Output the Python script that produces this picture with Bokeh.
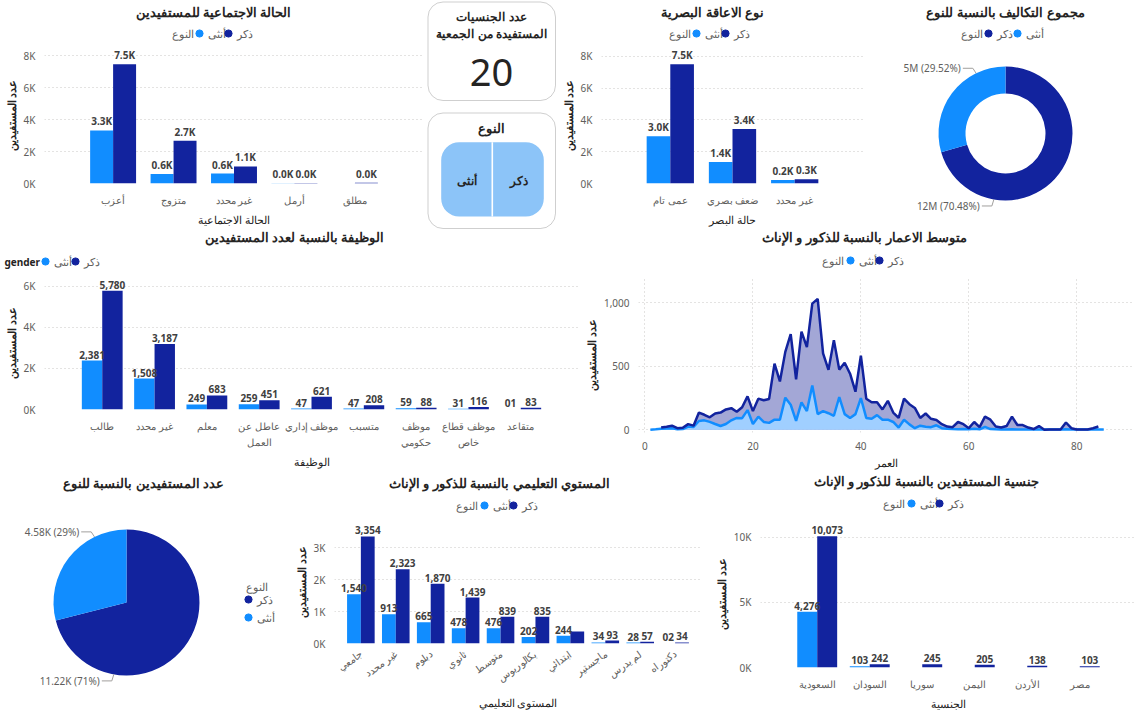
import math
from bokeh.plotting import figure
from bokeh.models import (FactorRange, Range1d, ColumnDataSource, Legend, LegendItem, Plot,
                          FixedTicker, NumeralTickFormatter, BoxAnnotation, Label)
from bokeh.transform import dodge
from bokeh.layouts import row, column
from bokeh.core.properties import value
from bokeh.embed import file_html
from bokeh.resources import INLINE

# ---------------- data ----------------
marital_cats = ["أعزب", "متزوج", "غير محدد", "أرمل", "مطلق"]
marital_f = [3320, 590, 620, 20, None]
marital_m = [7470, 2670, 1070, 30, 40]

vision_cats = ["عمى تام", "ضعف بصري", "غير محدد"]
vision_f = [2970, 1360, 220]
vision_m = [7500, 3430, 270]

job_cats = ["طالب", "غير محدد", "معلم", "عاطل عن\nالعمل", "موظف إداري", "متسبب",
            "موظف\nحكومي", "موظف قطاع\nخاص", "متقاعد"]
job_f = [2381, 1508, 249, 259, 47, 47, 59, 31, 1]
job_m = [5780, 3187, 683, 451, 621, 208, 88, 116, 83]

edu_cats = ["جامعي", "غير محدد", "دبلوم", "ثانوي", "متوسط", "بكالوريوس", "ابتدائي",
            "ماجستير", "لم يدرس", "دكتوراه"]
edu_f = [1540, 913, 665, 478, 476, 202, 244, 34, 28, 2]
edu_m = [3354, 2323, 1870, 1439, 839, 835, 374, 93, 57, 34]
edu_m_unlabeled = ["ابتدائي"]

nat_cats = ["السعودية", "السودان", "سوريا", "اليمن", "الأردن", "مصر"]
nat_f = [4276, 103, None, None, None, None]
nat_m = [10073, 242, 245, 205, 138, 103]

pie_genders = ["ذكر", "أنثى"]
cost_values = [12000000, 5026000]
count_values = [11220, 4580]

nationality_count = 20

age_f_x = list(range(1, 86))
age_f = [0, 3, 8, 10, 12, 3, 5, 25, 22, 69, 74, 62, 45, 29, 45, 74, 93, 91, 155, 45,
         103, 61, 54, 79, 79, 253, 197, 69, 216, 147, 349, 123, 147, 130, 110, 258, 123, 93, 123, 250,
         93, 86, 115, 79, 79, 61, 17, 79, 42, 12, 32, 24, 20, 35, 12, 8, 5, 3, 5, 3,
         8, 3, 22, 5, 3, 2, 2, 3, 2, 2, 1, 1, 2, 1, 1, 1, 1, 3, 1, 1,
         1, 1, 1, 1, 1]
age_m_x = list(range(3, 85))
age_m = [17, 24, 32, 12, 15, 44, 32, 135, 118, 98, 128, 135, 160, 170, 142, 177, 263, 147,
         245, 233, 243, 521, 381, 614, 754, 398, 774, 651, 995, 1032, 602, 472, 707, 474, 528, 442,
         300, 584, 245, 216, 216, 160, 228, 135, 93, 245, 201, 172, 93, 128, 86, 76, 44, 25,
         20, 61, 44, 12, 61, 20, 103, 79, 25, 17, 29, 103, 37, 37, 17, 5, 29, 0,
         2, 2, 2, 57, 12, 2, 2, 2, 12, 25]

# ---------------- style ----------------
FEM = "#118DFF"
MAL = "#12239E"
FEM_AREA = "#A0CFFF"
MAL_AREA = "#A3A7D6"
FONT = "Noto Sans"
GRID = "#C8C6C4"
TICK = "#605E5C"
DARK = "#252423"
LABEL = "#404040"
GL = 18  # legend glyph box (dot = 0.4 * GL)
NAN = float("nan")

HAS_BR = "border_radius" in BoxAnnotation.properties()
FIGKW = dict(output_backend="svg", toolbar_location=None, outline_line_color=None,
             background_fill_color="white", border_fill_color="white")
if "frame_align" in Plot.properties():
    FIGKW["frame_align"] = False


def k_fmt(v):
    return f"{v / 1000:.1f}K"


def n_fmt(v):
    return format(v, "02,d")


def k_tick(t):
    return f"{int(t // 1000)}K"


def converter(x0, y0, h, left, bottom):
    """page pixel -> offset from the frame's bottom-left corner"""
    def conv(px, py):
        return px - x0 - left, (y0 + h - bottom) - py
    return conv


def canvas(x0, y0, w, h):
    p = figure(width=w, height=h, x_range=Range1d(0, w), y_range=Range1d(0, h),
               x_axis_type=None, y_axis_type=None, min_border=0, **FIGKW)
    p.grid.visible = False
    return p, converter(x0, y0, h, 0, 0)


def add_title(p, conv, text, cx, cy):
    sx, sy = conv(cx, cy)
    p.add_layout(Label(x=sx, y=sy, text=text, text_align="center", text_baseline="middle",
                       text_font=FONT, text_font_size="13px", text_font_style="bold",
                       text_color=DARK))


def add_legend(p, conv, title, title_edge, title_y, entries, bold=False, align="right",
               title_size="11px"):
    sx, sy = conv(title_edge, title_y)
    p.add_layout(Label(x=sx, y=sy, text=title, text_align=align, text_baseline="middle",
                       text_font=FONT, text_font_size=title_size,
                       text_font_style="bold" if bold else "normal",
                       text_color=DARK if bold else TICK))
    for lab, col, label_left, y in entries:
        r = p.scatter(x=[NAN], y=[NAN], marker="circle", size=8, fill_color=col,
                      line_color=col)
        lx, ly = conv(label_left - GL, y)
        lg = Legend(items=[LegendItem(label=lab, renderers=[r])], location=(lx, ly - GL / 2),
                    label_text_font=FONT, label_text_font_size="11px", label_text_color=TICK,
                    glyph_width=GL, glyph_height=GL, label_height=GL, label_width=4,
                    label_standoff=0, spacing=0, padding=0, margin=0,
                    border_line_color=None, background_fill_alpha=0)
        p.add_layout(lg, "center")


def style_axes(p, xlabel, ylabel):
    p.axis.axis_line_color = None
    p.axis.major_tick_line_color = None
    p.axis.minor_tick_line_color = None
    p.axis.major_label_text_font = FONT
    p.axis.major_label_text_font_size = "10px"
    p.axis.major_label_text_color = TICK
    p.axis.axis_label_text_font = FONT
    p.axis.axis_label_text_color = DARK
    p.axis.axis_label_text_font_size = "11px"
    p.axis.major_label_standoff = 3
    p.axis.axis_label_standoff = 2
    p.xaxis.axis_label = xlabel
    p.yaxis.axis_label = ylabel
    p.yaxis.axis_label_text_font_style = "bold"
    p.xaxis.axis_label_text_font_style = "normal"


def bar_chart(pos, cats, f, m, ymax, ticks, lab_fmt, xlabel, pad, bw, orient=None,
              unlabeled=()):
    x0, y0, w, h, left, right, top, bottom = pos
    head, hconv = canvas(x0, y0, w, top)
    src = ColumnDataSource(dict(
        cat=cats,
        f=[NAN if v is None else v for v in f],
        m=[NAN if v is None else v for v in m],
        fl=["" if v is None else lab_fmt(v) for v in f],
        ml=["" if (v is None or c in unlabeled) else lab_fmt(v) for c, v in zip(cats, m)],
    ))
    p = figure(width=w, height=h - top,
               x_range=FactorRange(factors=cats, range_padding=pad, range_padding_units="absolute"),
               y_range=Range1d(0, ymax), min_border_left=left, min_border_right=right,
               min_border_top=0, min_border_bottom=bottom, **FIGKW)
    xf = dodge("cat", -bw / 2, range=p.x_range)
    xm = dodge("cat", bw / 2, range=p.x_range)
    p.vbar(x=xf, top="f", bottom=0, width=bw, source=src, fill_color=FEM, line_color=None)
    p.vbar(x=xm, top="m", bottom=0, width=bw, source=src, fill_color=MAL, line_color=None)
    for xx, col in ((xf, "f"), (xm, "m")):
        p.text(x=xx, y=col, text=col + "l", source=src, text_align="center",
               text_baseline="bottom", y_offset=-2, text_font=value(FONT),
               text_font_size="10px", text_font_style="bold", text_color=LABEL)
    p.xgrid.visible = False
    p.ygrid.grid_line_color = GRID
    p.ygrid.grid_line_dash = "1 3"
    p.yaxis.ticker = FixedTicker(ticks=ticks)
    p.yaxis.major_label_overrides = {t: k_tick(t) for t in ticks}
    style_axes(p, xlabel, "عدد المستفيدين")
    if orient is not None:
        p.xaxis.major_label_orientation = orient
    return column(head, p), head, hconv


# ---------------- row 1 ----------------
la, ha, ca = bar_chart((0, 0, 425, 229, 37, 2, 47, 33), marital_cats, marital_f, marital_m,
                       8514, [0, 2000, 4000, 6000, 8000], k_fmt, "الحالة الاجتماعية",
                       0.635, 0.38)
add_title(ha, ca, "الحالة الاجتماعية للمستفيدين", 213, 11)
add_legend(ha, ca, "النوع", 193, 33, [("أنثى", FEM, 208, 33), ("ذكر", MAL, 237, 33)])

lb, hb, cb = bar_chart((557, 0, 323, 229, 35, 17, 47, 33), vision_cats, vision_f, vision_m,
                       8557, [0, 2000, 4000, 6000, 8000], k_fmt, "حالة البصر", 0.606, 0.38)
add_title(hb, cb, "نوع الاعاقة البصرية", 712, 11)
add_legend(hb, cb, "النوع", 690, 33, [("أنثى", FEM, 705, 33), ("ذكر", MAL, 734, 33)])

# cards
pc, _ = canvas(425, 0, 132, 229)
br = {"border_radius": 15} if HAS_BR else {}
pc.add_layout(BoxAnnotation(left=2.5, right=130, bottom=129, top=227.5, fill_color="white",
                            fill_alpha=1, line_color="#606060", line_width=1, **br))
pc.add_layout(BoxAnnotation(left=2.5, right=130, bottom=1, top=116.5, fill_color="white",
                            fill_alpha=1, line_color="#606060", line_width=1, **br))
br2 = {"border_radius": 18} if HAS_BR else {}
pc.add_layout(BoxAnnotation(left=15.7, right=118.3, bottom=13, top=87.3, fill_color="#8CC4F8",
                            fill_alpha=1, line_color=None, **br2))
pc.add_layout(BoxAnnotation(left=66, right=67.6, bottom=13, top=87.3, fill_color="white",
                            fill_alpha=1, line_color=None))
for txt, x, y, size in (("عدد الجنسيات", 66, 213, "12px"), ("المستفيدة من الجمعية", 66, 196, "12px"),
                        ("النوع", 66, 102, "13px"), ("أنثى", 41, 49, "12px"), ("ذكر", 93, 49, "12px")):
    pc.add_layout(Label(x=x, y=y, text=txt, text_align="center", text_baseline="middle",
                        text_font=FONT, text_font_size=size, text_font_style="bold",
                        text_color=DARK))
pc.add_layout(Label(x=66, y=157, text=str(nationality_count), text_align="center",
                    text_baseline="middle", text_font=FONT, text_font_size="38px",
                    text_color=DARK))


def pie_figure(x0, y0, w, h, vals, cx, cy, r_out, r_in, label_fn):
    p, conv = canvas(x0, y0, w, h)
    tot = sum(vals)
    starts, ends, cum = [], [], 0
    for v in vals:
        a_from = math.pi / 2 - 2 * math.pi * cum / tot
        cum += v
        a_to = math.pi / 2 - 2 * math.pi * cum / tot
        starts.append(a_to)
        ends.append(a_from)
    src = ColumnDataSource(dict(s=starts, e=ends, c=[MAL, FEM], g=pie_genders))
    if r_in > 0:
        p.annular_wedge(x=cx, y=cy, inner_radius=r_in, outer_radius=r_out, start_angle="s",
                        end_angle="e", fill_color="c", line_color=None, source=src)
    else:
        p.wedge(x=cx, y=cy, radius=r_out, start_angle="s", end_angle="e", fill_color="c",
                line_color=None, source=src)
    anchors = [math.radians(260), math.radians(116)]
    elbows = [(-2, -6.5), (-3.3, 5)]
    for v, a, (ex, ey) in zip(vals, anchors, elbows):
        ax = cx + r_out * math.cos(a)
        ay = cy + r_out * math.sin(a)
        bx, by = ax + ex, ay + ey
        p.line([ax, bx, bx - 10], [ay, by, by], line_color="#A19F9D", line_width=1)
        p.add_layout(Label(x=bx - 12, y=by, text=label_fn(v, tot), text_align="right",
                           text_baseline="middle", text_font=FONT, text_font_size="10px",
                           text_color=TICK))
    return p, conv


pcost, cc = pie_figure(880, 0, 261, 229, cost_values, 125, 96, 67, 40,
                       lambda v, t: f"{round(v / 1e6)}M ({100 * v / t:.2f}%)")
add_title(pcost, cc, "مجموع التكاليف بالنسبة للنوع", 1005, 11)
add_legend(pcost, cc, "النوع", 982, 33, [("ذكر", MAL, 997, 33), ("أنثى", FEM, 1026, 33)])

# ---------------- row 2 ----------------
ld, hd, cd = bar_chart((0, 229, 580, 243, 39, 2, 47, 47), job_cats, job_f, job_m, 6478,
                       [0, 2000, 4000, 6000], n_fmt, "الوظيفة", 0.6036, 0.39)
add_title(hd, cd, "الوظيفة بالنسبة لعدد المستفيدين", 294, 236)
add_legend(hd, cd, "gender", 4, 261, [("أنثى", FEM, 54, 261), ("ذكر", MAL, 84, 261)],
           bold=True, align="left", title_size="10px")

he, ce = canvas(580, 229, 561, 48)
pe = figure(width=561, height=195, x_range=Range1d(-1.2, 90.7), y_range=Range1d(-22, 1201),
            min_border_left=57, min_border_right=7, min_border_top=0, min_border_bottom=29,
            **FIGKW)
pe.varea(x=age_m_x, y1=0, y2=age_m, fill_color=MAL_AREA)
pe.varea(x=age_f_x, y1=0, y2=age_f, fill_color=FEM_AREA)
pe.line(age_f_x, age_f, line_color=FEM, line_width=2.5)
pe.line(age_m_x, age_m, line_color=MAL, line_width=2.5)
pe.xaxis.ticker = FixedTicker(ticks=[0, 20, 40, 60, 80])
pe.yaxis.ticker = FixedTicker(ticks=[0, 500, 1000])
pe.yaxis.formatter = NumeralTickFormatter(format="0,0")
pe.grid.grid_line_color = GRID
pe.grid.grid_line_dash = "1 3"
style_axes(pe, "العمر", "عدد المستفيدين")
add_title(he, ce, "متوسط الاعمار بالنسبة للذكور و الإناث", 864, 236)
add_legend(he, ce, "النوع", 843, 260, [("أنثى", FEM, 859, 260), ("ذكر", MAL, 888, 260)])
le = column(he, pe)

# ---------------- row 3 ----------------
pf, cf = pie_figure(0, 472, 290, 241, count_values, 126, 111, 73, 0,
                    lambda v, t: f"{v / 1000:.2f}K ({round(100 * v / t)}%)")
add_title(pf, cf, "عدد المستفيدين بالنسبة للنوع", 143, 482)
add_legend(pf, cf, "النوع", 267, 586, [("ذكر", MAL, 257, 599), ("أنثى", FEM, 257, 617)])

lg_, hg, cg = bar_chart((290, 472, 420, 241, 40, 9, 48, 56), edu_cats, edu_f, edu_m, 3852,
                        [0, 1000, 2000, 3000], n_fmt, "المستوى التعليمي", 0.255, 0.395,
                        orient=0.62, unlabeled=edu_m_unlabeled)
add_title(hg, cg, "المستوي التعليمي بالنسبة للذكور و الإناث", 499, 482)
add_legend(hg, cg, "النوع", 477, 505, [("أنثى", FEM, 493, 505), ("ذكر", MAL, 522, 505)])

lh, hh, chh = bar_chart((710, 472, 431, 241, 43, 5, 48, 33), nat_cats, nat_f, nat_m, 11291,
                        [0, 5000, 10000], n_fmt, "الجنسية", 0.58, 0.38)
add_title(hh, chh, "جنسية المستفيدين بالنسبة للذكور و الإناث", 926, 480)
add_legend(hh, chh, "النوع", 904, 503, [("أنثى", FEM, 920, 503), ("ذكر", MAL, 948, 503)])

layout = column(row(la, pc, lb, pcost), row(ld, le), row(pf, lg_, lh))
open("out.html", "w").write(file_html(layout, INLINE))
